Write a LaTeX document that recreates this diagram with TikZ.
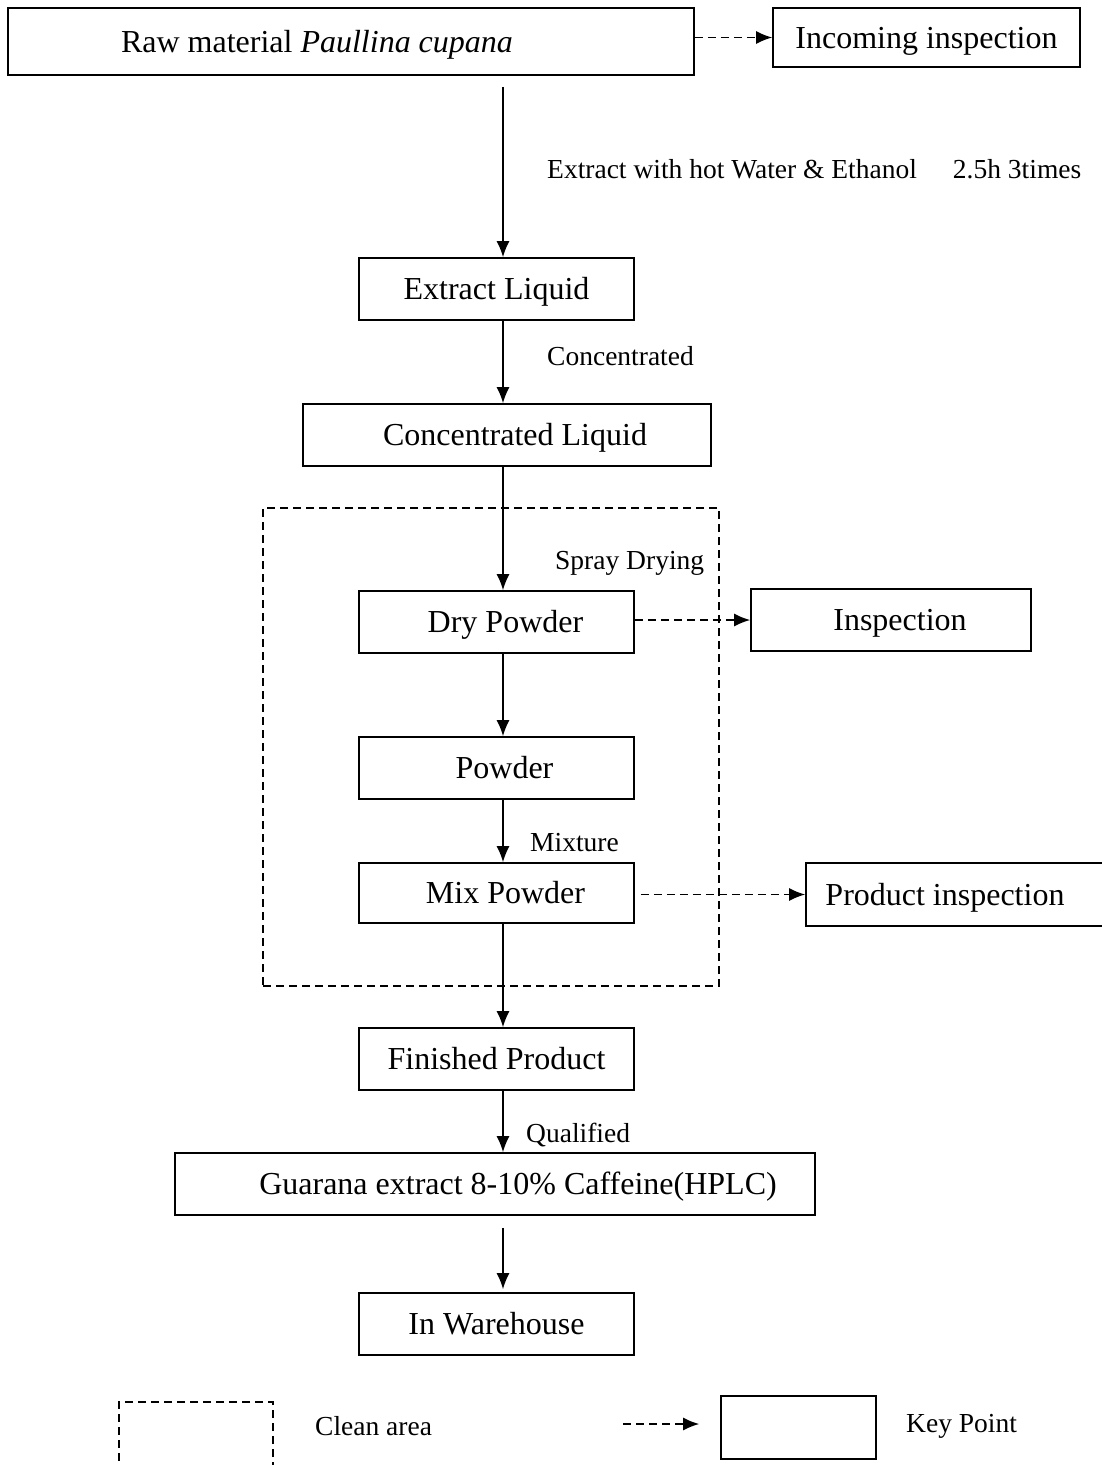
\documentclass[tikz,border=0pt]{standalone}
\usepackage{fontspec}
\setmainfont{Liberation Serif}
\usetikzlibrary{arrows.meta}

\begin{document}
\begin{tikzpicture}[x=1pt, y=-1pt,
		box/.style={draw, line width=1.6pt, inner sep=0pt, text height=24pt, text depth=3pt, font=\fontsize{32}{38}\selectfont},
		lbl/.style={anchor=west, inner sep=0pt, font=\fontsize{27.5}{33}\selectfont},
		flow/.style={line width=1.6pt, -{Latex[length=16pt,width=13pt]}},
		dflow/.style={flow, dash pattern=on 8pt off 5pt},
		clean/.style={draw, line width=1.4pt, dash pattern=on 8pt off 5pt, inner sep=0pt}]
		\useasboundingbox (0,0) rectangle (1102,1465);
		\coordinate (axis) at (503,0);
		% main chain
		\node[box, minimum width=686pt, minimum height=67pt] (raw)at(351,41.5) {Raw material \textit{Paullina cupana}\hspace*{68pt}};
		\node[box, minimum width=307pt, minimum height=59pt] (inc)at(926.5,37.5) {Incoming inspection};
		\node[box, minimum width=275pt, minimum height=62pt] (ext)at(496.5,289) {Extract Liquid};
		\node[box, minimum width=408pt, minimum height=62pt] (conc)at(507,435) {\hspace*{16pt}Concentrated Liquid};
		\node[clean, minimum width=456pt, minimum height=478pt] (area)at(491,747) {};
		\node[box, minimum width=275pt, minimum height=62pt] (dry)at(496.5,622) {\hspace*{18pt}Dry Powder};
		\node[box, minimum width=280pt, minimum height=62pt] (insp)at(891,620) {\hspace*{18pt}Inspection};
		\node[box, minimum width=275pt, minimum height=62pt] (pow)at(496.5,768) {\hspace*{16pt}Powder};
		\node[box, minimum width=275pt, minimum height=60pt] (mix)at(496.5,893) {\hspace*{18pt}Mix Powder};
		\node[box, minimum width=310pt, minimum height=63pt] (prod)at(961,894.5) {\hspace*{-32pt}Product inspection};
		\node[box, minimum width=275pt, minimum height=62pt] (fin)at(496.5,1059) {Finished Product};
		\node[box, minimum width=640pt, minimum height=62pt] (gua)at(495,1184) {\hspace*{46pt}Guarana extract 8-10\% Caffeine(HPLC)};
		\node[box, minimum width=275pt, minimum height=62pt] (wh)at(496.5,1324) {In Warehouse};
		% step labels
		\node[lbl] (l1)at(547,169) {Extract with hot Water \& Ethanol\hspace{36pt}2.5h 3times};
		\node[lbl] (l2)at(547,356) {Concentrated};
		\node[lbl] (l3)at(555,563) {Spray Drying};
		\node[lbl] (l4)at(530,843) {Mixture};
		\node[lbl] (l5)at(526,1135) {Qualified};
		% arrows
		\draw[flow, shorten <=11pt] (raw.south -| axis) -- (ext.north -| axis);
		\draw[flow] (ext.south -| axis) -- (conc.north -| axis);
		\draw[flow] (conc.south -| axis) -- (dry.north -| axis);
		\draw[flow] (dry.south -| axis) -- (pow.north -| axis);
		\draw[flow] (pow.south -| axis) -- (mix.north -| axis);
		\draw[flow] (mix.south -| axis) -- (fin.north -| axis);
		\draw[flow] (fin.south -| axis) -- (gua.north -| axis);
		\draw[flow, shorten <=12pt, shorten >=3pt] (gua.south -| axis) -- (wh.north -| axis);
		\draw[dflow] (raw.east |- inc.west) -- (inc.west);
		\draw[dflow] (dry.east |- insp.west) -- (insp.west);
		\draw[dflow, shorten <=6pt] (mix.east |- prod.west) -- (prod.west);
		% legend
		\node[clean, minimum width=154pt, minimum height=70pt] (kclean)at(196,1437) {};
		\node[lbl] (kcleant)at(315,1426) {Clean area};
		\coordinate (karrow)at(623,1424);
		\node[box, minimum width=155pt, minimum height=63pt] (kbox)at(798.5,1427.5) {};
		\node[lbl] (kboxt)at(906,1426) {Key Point};
		\draw[dflow, shorten >=21pt] (karrow) -- (kbox.west |- karrow);
	\end{tikzpicture}
\end{document}
